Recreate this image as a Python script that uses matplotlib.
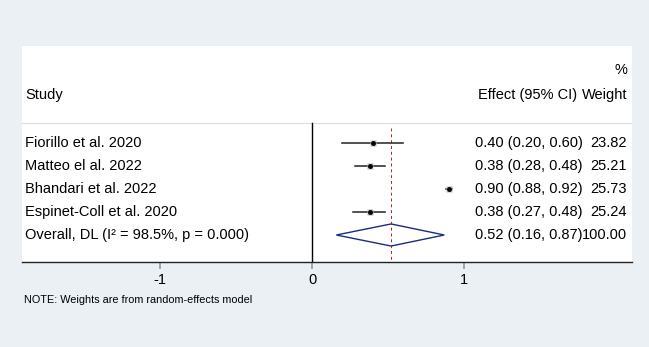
import matplotlib.pyplot as plt
from matplotlib.patches import Polygon
from matplotlib.transforms import blended_transform_factory

plt.rcParams["font.family"] = ["Liberation Sans", "DejaVu Sans"]

studies = [
    "Fiorillo et al. 2020",
    "Matteo el al. 2022",
    "Bhandari et al. 2022",
    "Espinet-Coll et al. 2020",
]
effects = [0.40, 0.38, 0.90, 0.38]
lower = [0.20, 0.28, 0.88, 0.27]
upper = [0.60, 0.48, 0.92, 0.48]
weights = [23.82, 25.21, 25.73, 25.24]

overall_label = "Overall, DL (I² = 98.5%, p = 0.000)"
overall_effect = 0.52
overall_lower = 0.16
overall_upper = 0.87
overall_weight = 100.00

xticks = [-1, 0, 1]
note = "NOTE: Weights are from random-effects model"

bg = "#eaf0f4"
W, H = 649, 347
fig = plt.figure(figsize=(W / 100, H / 100), dpi=100, facecolor=bg)
ax = fig.add_axes([22 / W, 85 / H, 610 / W, 216 / H], facecolor="white")

ybot, ytop = 5.174, -4.217
ax.set_xlim(-1.908, 2.105)
ax.set_ylim(ybot, ytop)
for s in ["top", "left", "right"]:
    ax.spines[s].set_visible(False)
ax.spines["bottom"].set_color("#222222")
ax.spines["bottom"].set_linewidth(1.0)
ax.set_yticks([])
ax.set_xticks(xticks)
ax.set_xticklabels([str(t) for t in xticks], fontsize=10.5)
ax.tick_params(axis="x", length=5, width=1.2, color="#999999", pad=3)

fs = 10.5
n = len(studies)

# separator line and reference lines
ax.axhline(-0.87, color="#dddddd", lw=0.8)
ax.plot([0, 0], [-0.87, ybot], color="black", lw=1.0)
ax.plot([overall_effect, overall_effect], [-0.65, ybot], color="#b0202a",
        lw=0.7, ls=(0, (3, 3)))

for i in range(n):
    ax.plot([lower[i], upper[i]], [i, i], color="#222222", lw=1.1)
    ax.plot(effects[i], i, marker="s", ms=5, color="#bbbbbb", mec="none")
    ax.plot(effects[i], i, marker="o", ms=2.5, color="black")

dia = Polygon([[overall_lower, n], [overall_effect, n - 0.48],
               [overall_upper, n], [overall_effect, n + 0.48]],
              closed=True, fill=False, edgecolor="#1c2a80", lw=1.0)
ax.add_patch(dia)

# text columns (axes fraction x)
x_study = 3 / 610
x_eff = 453 / 610
x_w = 605 / 610
tt = blended_transform_factory(ax.transAxes, ax.transData)

labels = studies + [overall_label]
effs = effects + [overall_effect]
los = lower + [overall_lower]
ups = upper + [overall_upper]
ws = weights + [overall_weight]
for i in range(n + 1):
    ax.text(x_study, i, labels[i], transform=tt, fontsize=fs, va="center", ha="left")
    ax.text(x_eff, i, f"{effs[i]:.2f} ({los[i]:.2f}, {ups[i]:.2f})",
            transform=tt, fontsize=fs, va="center", ha="left")
    ax.text(x_w, i, f"{ws[i]:.2f}", transform=tt, fontsize=fs, va="center", ha="right")

ax.text(x_study, -2.09, "Study", transform=tt, fontsize=fs, va="center", ha="left")
ax.text(555 / 610, -2.09, "Effect (95% CI)", transform=tt, fontsize=fs, va="center", ha="right")
ax.text(x_w, -2.09, "Weight", transform=tt, fontsize=fs, va="center", ha="right")
ax.text(x_w, -3.17, "%", transform=tt, fontsize=fs, va="center", ha="right")

fig.text(24 / W, 1 - 300 / H, note, fontsize=7.8, va="center", ha="left")

fig.savefig("out.png", dpi=100, facecolor=bg)
